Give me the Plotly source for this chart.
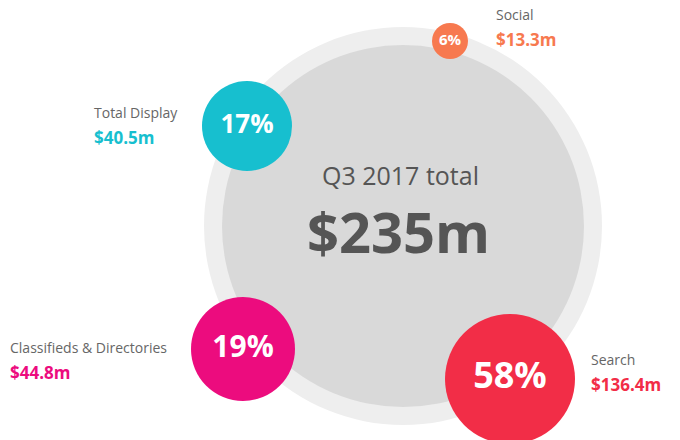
import plotly.graph_objects as go

categories = ["Social", "Total Display", "Classifieds & Directories", "Search"]
shares = [6, 17, 19, 58]
amounts = [13.3, 40.5, 44.8, 136.4]
total_label = "Q3 2017 total"
total_value = 235

colors = ["#F7794F", "#17BFCF", "#EC0C7E", "#F22D47"]
# layout (pixel positions and bubble diameters), offset for page margin
DX, DY = -8, -9
cx = [450, 247, 243, 510]
cy = [42, 127, 350, 380]
diam = [36, 90, 104, 130]
lx = [494, 92, 8, 589]
ly = [27, 125, 360, 372]
pct_size = [15, 26, 30, 36]

fig = go.Figure()
fig.add_trace(go.Scatter(x=[403 + DX], y=[227 + DY], mode="markers",
    marker=dict(size=398, color="#EEEEEE", line=dict(width=0)), hoverinfo="skip"))
fig.add_trace(go.Scatter(x=[403 + DX], y=[227 + DY], mode="markers",
    marker=dict(size=362, color="#D9D9D9", line=dict(width=0)), hoverinfo="skip"))
fig.add_trace(go.Scatter(x=[v + DX for v in cx], y=[v + DY for v in cy], mode="markers+text",
    marker=dict(size=diam, color=colors, line=dict(width=0), opacity=1),
    text=[f"<b>{s}%</b>" for s in shares], textposition="middle center",
    textfont=dict(color="white", size=pct_size, family="Open Sans"), hoverinfo="skip"))

for i, c in enumerate(categories):
    fig.add_annotation(x=lx[i] + DX, y=ly[i] + DY, xanchor="left", yanchor="bottom",
        text=c, showarrow=False, font=dict(size=14, color="#666", family="Open Sans"))
    fig.add_annotation(x=lx[i] + DX, y=ly[i] + DY, xanchor="left", yanchor="top",
        text=f"<b>${amounts[i]}m</b>", showarrow=False,
        font=dict(size=17, color=colors[i], family="Open Sans"))

fig.add_annotation(x=400 + DX, y=176 + DY, text=total_label, showarrow=False,
    font=dict(size=25, color="#555", family="Open Sans"))
fig.add_annotation(x=398 + DX, y=232 + DY, text=f"<b>${total_value}m</b>", showarrow=False,
    font=dict(size=56, color="#555", family="Open Sans"))

fig.update_layout(width=680, height=440, margin=dict(l=0, r=0, t=0, b=0),
    paper_bgcolor="white", plot_bgcolor="white", showlegend=False,
    xaxis=dict(range=[0, 680], visible=False, fixedrange=True),
    yaxis=dict(range=[440, 0], visible=False, fixedrange=True))
fig.write_html("out.html")
